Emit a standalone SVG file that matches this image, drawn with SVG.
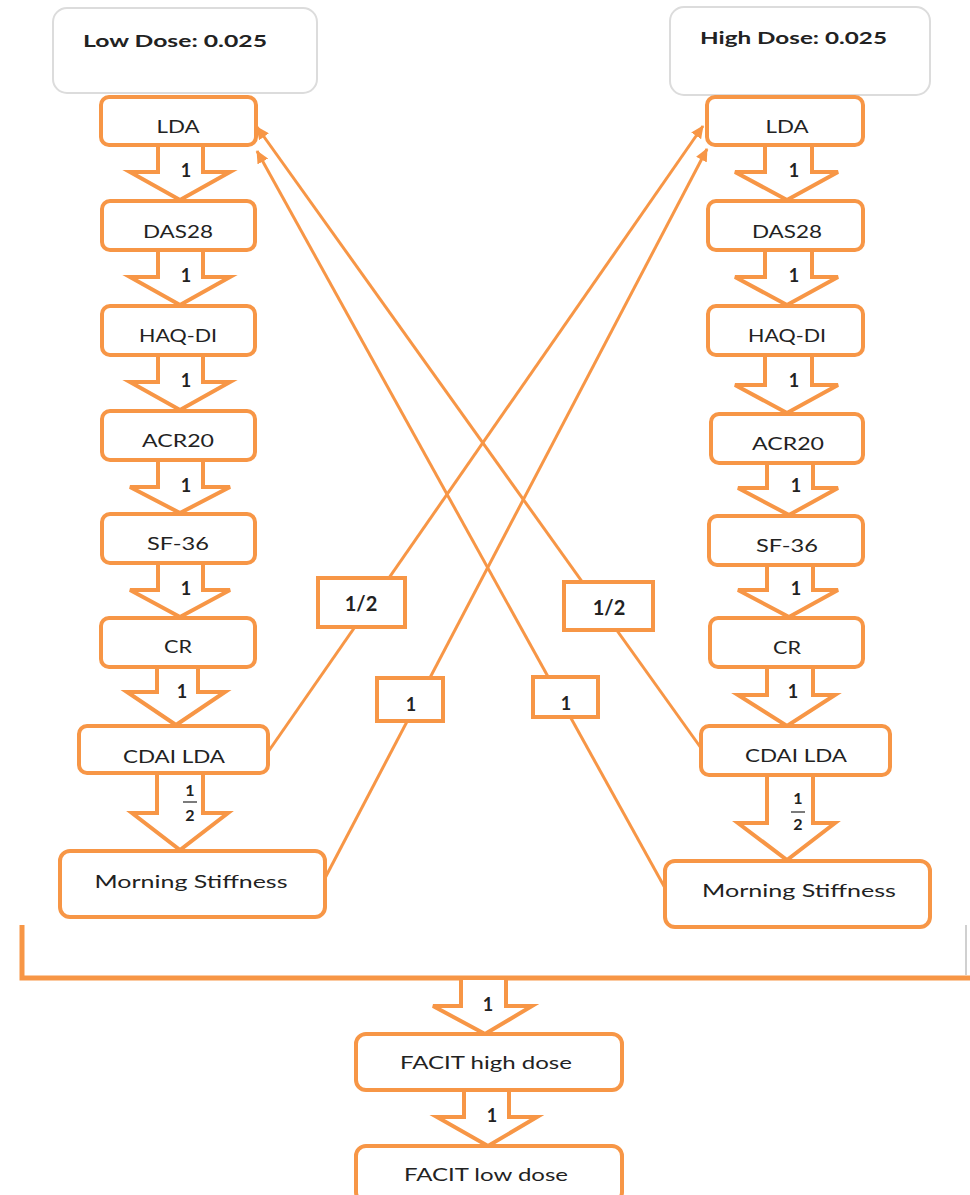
<svg xmlns="http://www.w3.org/2000/svg" width="970" height="1195" viewBox="0 0 970 1195">
<style>
.box{fill:#fff;stroke:#F79646;stroke-width:4}
.hdr{fill:#fff;stroke:#dcdcdc;stroke-width:2}
.blk{fill:#fff;stroke:#F79646;stroke-width:4;stroke-linejoin:miter}
.con{stroke:#F79646;stroke-width:3;fill:none}
.lbl{fill:#fff;stroke:#F79646;stroke-width:4}
text{font-family:Lato,"Liberation Sans",sans-serif;font-size:18px;fill:#222;text-anchor:middle}
.h{font-weight:bold;text-anchor:start;font-size:17px}
.n{font-weight:bold;font-size:18px}
.lb{font-weight:bold;font-size:20px}
</style>
<defs>
<marker id="ah" markerWidth="13" markerHeight="12" refX="12" refY="6" orient="auto" markerUnits="userSpaceOnUse" viewBox="0 0 13 12">
<path d="M0,0 L13,6 L0,12 Z" fill="#F79646"/>
</marker>
</defs>

<g id="bracket">
<path d="M22,925 V978 H970" fill="none" stroke="#F79646" stroke-width="5"/>
<line x1="966" y1="925" x2="966" y2="975" stroke="#d0d0d0" stroke-width="2"/>
</g>

<g id="connectors">
<line class="con" x1="268" y1="752" x2="703" y2="126" marker-end="url(#ah)"/>
<line class="con" x1="324" y1="880" x2="707" y2="149" marker-end="url(#ah)"/>
<line class="con" x1="701" y1="748" x2="257" y2="127" marker-end="url(#ah)"/>
<line class="con" x1="665" y1="888" x2="257" y2="151" marker-end="url(#ah)"/>
<!-- left block arrows -->
<path class="blk" d="M158,145 H203 V172 H230 L180,200 L130,172 H158 Z"/>
<path class="blk" d="M158,250 H203 V277 H230 L180,305 L130,277 H158 Z"/>
<path class="blk" d="M158,355 H203 V382 H230 L180,410 L130,382 H158 Z"/>
<path class="blk" d="M158,460 H203 V487 H230 L180,513 L130,487 H158 Z"/>
<path class="blk" d="M158,563 H203 V590 H230 L180,617 L130,590 H158 Z"/>
<path class="blk" d="M157,667 H198 V692 H225 L176,725 L127,692 H157 Z"/>
<path class="blk" d="M157,773 H203 V813 H228 L180,850 L132,813 H157 Z"/>
<!-- right block arrows -->
<path class="blk" d="M765,145 H812 V172 H838 L787,200 L735,172 H765 Z"/>
<path class="blk" d="M765,250 H812 V277 H838 L787,305 L735,277 H765 Z"/>
<path class="blk" d="M765,355 H812 V385 H838 L787,413 L735,385 H765 Z"/>
<path class="blk" d="M767,463 H813 V488 H838 L789,515 L738,488 H767 Z"/>
<path class="blk" d="M767,565 H813 V590 H838 L789,617 L738,590 H767 Z"/>
<path class="blk" d="M767,667 H813 V695 H835 L787,726 L738,695 H767 Z"/>
<path class="blk" d="M767,775 H813 V823 H835 L787,860 L738,823 H767 Z"/>
<!-- bottom block arrows -->
<path class="blk" d="M461,978 H506 V1006 H532 L485,1034 L433,1006 H461 Z"/>
<path class="blk" d="M464,1090 H509 V1117 H537 L488,1146 L437,1117 H464 Z"/>
<!-- arrow labels -->
<text x="186" y="177" class="n">1</text>
<text x="186" y="282" class="n">1</text>
<text x="186" y="387" class="n">1</text>
<text x="186" y="492" class="n">1</text>
<text x="186" y="595" class="n">1</text>
<text x="182" y="698" class="n">1</text>
<text x="190" y="796" class="n" style="font-size:16px">1</text>
<line x1="183" y1="802" x2="197" y2="802" stroke="#222" stroke-width="1.2"/>
<text x="190" y="821" class="n" style="font-size:16px">2</text>
<text x="794" y="177" class="n">1</text>
<text x="794" y="282" class="n">1</text>
<text x="794" y="387" class="n">1</text>
<text x="796" y="492" class="n">1</text>
<text x="796" y="595" class="n">1</text>
<text x="793" y="698" class="n">1</text>
<text x="798" y="804" class="n" style="font-size:16px">1</text>
<line x1="791" y1="812" x2="805" y2="812" stroke="#222" stroke-width="1.2"/>
<text x="798" y="830" class="n" style="font-size:16px">2</text>
<text x="488" y="1011" class="n">1</text>
<text x="492" y="1122" class="n">1</text>
</g>

<g id="low-dose-header"><rect class="hdr" x="53" y="8" width="264" height="85" rx="14"/><text class="h" x="83" y="47" textLength="184" lengthAdjust="spacingAndGlyphs">Low Dose: 0.025</text></g>
<g id="high-dose-header"><rect class="hdr" x="670" y="7" width="260" height="88" rx="14"/><text class="h" x="700" y="44" textLength="187" lengthAdjust="spacingAndGlyphs">High Dose: 0.025</text></g>

<g id="L-LDA"><rect class="box" x="101" y="97" width="155" height="48" rx="8"/><text x="178" y="133" textLength="43" lengthAdjust="spacingAndGlyphs">LDA</text></g>
<g id="L-DAS28"><rect class="box" x="102" y="201" width="153" height="49" rx="8"/><text x="178" y="238" textLength="70" lengthAdjust="spacingAndGlyphs">DAS28</text></g>
<g id="L-HAQ-DI"><rect class="box" x="102" y="306" width="153" height="49" rx="8"/><text x="178" y="342" textLength="78" lengthAdjust="spacingAndGlyphs">HAQ-DI</text></g>
<g id="L-ACR20"><rect class="box" x="102" y="411" width="153" height="49" rx="8"/><text x="178" y="447" textLength="72" lengthAdjust="spacingAndGlyphs">ACR20</text></g>
<g id="L-SF-36"><rect class="box" x="102" y="514" width="153" height="49" rx="8"/><text x="178" y="550" textLength="62" lengthAdjust="spacingAndGlyphs">SF-36</text></g>
<g id="L-CR"><rect class="box" x="101" y="618" width="154" height="49" rx="8"/><text x="178" y="653" textLength="28" lengthAdjust="spacingAndGlyphs">CR</text></g>
<g id="L-CDAI-LDA"><rect class="box" x="79" y="726" width="189" height="47" rx="8"/><text x="174" y="763" textLength="102" lengthAdjust="spacingAndGlyphs">CDAI LDA</text></g>
<g id="L-Morning-Stiffness"><rect class="box" x="60" y="851" width="265" height="66" rx="10"/><text x="191" y="888" textLength="193" lengthAdjust="spacingAndGlyphs">Morning Stiffness</text></g>

<g id="R-LDA"><rect class="box" x="707" y="97" width="156" height="48" rx="8"/><text x="787" y="133" textLength="43" lengthAdjust="spacingAndGlyphs">LDA</text></g>
<g id="R-DAS28"><rect class="box" x="708" y="201" width="155" height="49" rx="8"/><text x="787" y="238" textLength="70" lengthAdjust="spacingAndGlyphs">DAS28</text></g>
<g id="R-HAQ-DI"><rect class="box" x="708" y="306" width="155" height="49" rx="8"/><text x="787" y="342" textLength="78" lengthAdjust="spacingAndGlyphs">HAQ-DI</text></g>
<g id="R-ACR20"><rect class="box" x="711" y="414" width="152" height="49" rx="8"/><text x="788" y="450" textLength="72" lengthAdjust="spacingAndGlyphs">ACR20</text></g>
<g id="R-SF-36"><rect class="box" x="709" y="516" width="154" height="49" rx="8"/><text x="787" y="552" textLength="62" lengthAdjust="spacingAndGlyphs">SF-36</text></g>
<g id="R-CR"><rect class="box" x="710" y="618" width="153" height="49" rx="8"/><text x="787" y="654" textLength="28" lengthAdjust="spacingAndGlyphs">CR</text></g>
<g id="R-CDAI-LDA"><rect class="box" x="701" y="726" width="189" height="49" rx="8"/><text x="796" y="762" textLength="102" lengthAdjust="spacingAndGlyphs">CDAI LDA</text></g>
<g id="R-Morning-Stiffness"><rect class="box" x="665" y="861" width="265" height="66" rx="10"/><text x="799" y="897" textLength="194" lengthAdjust="spacingAndGlyphs">Morning Stiffness</text></g>

<g id="lbl-L-half"><rect class="lbl" x="318" y="578" width="87" height="49"/><text x="361" y="611" class="lb">1/2</text></g>
<g id="lbl-L-one"><rect class="lbl" x="377" y="678" width="66" height="43"/><text x="411" y="711" class="n">1</text></g>
<g id="lbl-R-half"><rect class="lbl" x="564" y="582" width="89" height="48"/><text x="609" y="615" class="lb">1/2</text></g>
<g id="lbl-R-one"><rect class="lbl" x="533" y="677" width="65" height="40"/><text x="566" y="710" class="n">1</text></g>

<g id="FACIT-high"><rect class="box" x="356" y="1034" width="266" height="56" rx="10"/><text x="486" y="1069" textLength="172" lengthAdjust="spacingAndGlyphs">FACIT high dose</text></g>
<g id="FACIT-low"><rect class="box" x="356" y="1146" width="266" height="56" rx="10"/><text x="486" y="1181" textLength="164" lengthAdjust="spacingAndGlyphs">FACIT low dose</text></g>
</svg>
